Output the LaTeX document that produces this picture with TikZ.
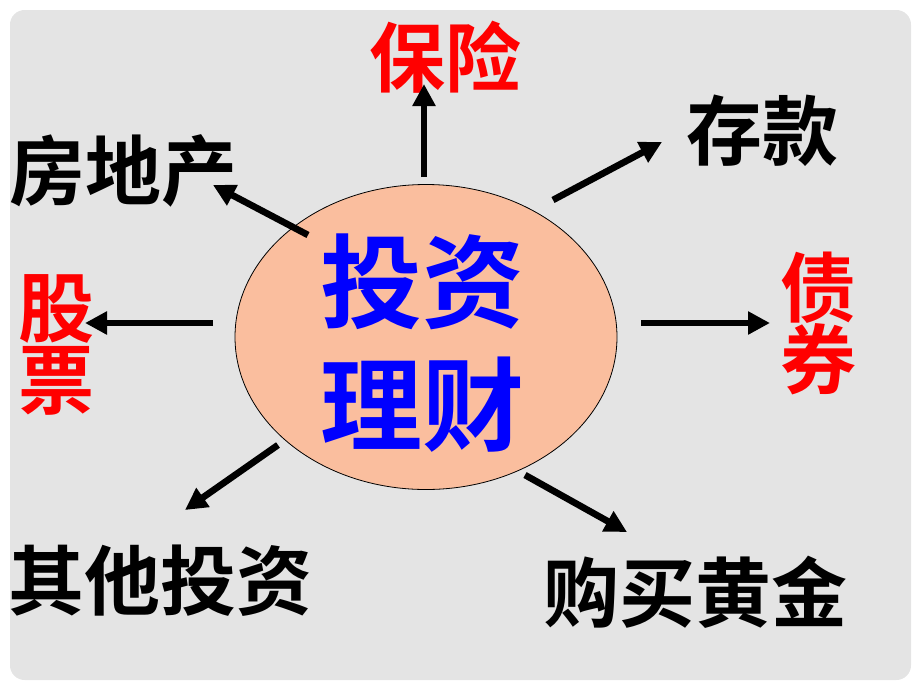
\documentclass[tikz,border=0pt]{standalone}
\usepackage{fontspec}
\setmainfont{Noto Sans CJK SC}[BoldFont={Noto Sans CJK SC Bold}]
\usetikzlibrary{arrows.meta, shapes.geometric}
\definecolor{bgGrey}{RGB}{228,228,228}
\definecolor{coreFill}{RGB}{250,190,158}
\tikzstyle{item} = [inner sep=0pt, align=center, text=black, font=\fontsize{57pt}{54pt}\selectfont\bfseries]
\tikzstyle{hot} = [item, text=red]
\tikzstyle{core} = [ellipse, draw=black, line width=0.6pt, fill=coreFill, inner sep=0pt, minimum width=286.5pt, minimum height=228.75pt]
\tikzstyle{coretext} = [inner sep=0pt, align=center, text=blue, font=\fontsize{76.5pt}{92pt}\selectfont\bfseries]
\tikzstyle{arrow} = [line width=5pt, -{Triangle[length=16.5pt, width=16.5pt]}]
\begin{document}
\begin{tikzpicture}[x=0.75pt, y=-0.75pt]
\useasboundingbox (0,0) rectangle (920,690);
\fill [bgGrey, rounded corners=11pt] (10,10) rectangle (911,680);

\node (CORE) [core] at (426,337) {};
\node (CORE_TEXT) [coretext] at (422,343) {投资\\理财};

\node (BAOXIAN) [hot] at (445,57) {保险};
\node (CUNKUAN) [item] at (762,131) {存款};
\node (FANGDICHAN) [item] at (123,171) {房地产};
\node (GUPIAO) [hot] at (56,345) {股\\票};
\node (ZHAIQUAN) [hot] at (818,323) {债\\券};
\node (QITA) [item] at (160,581) {其他投资};
\node (HUANGJIN) [item] at (695,592) {购买黄金};

% arrow ends
\coordinate (UP_TAIL) at (424,177);
\coordinate (UP_TIP) at (424,84);
\coordinate (NE_TAIL) at (553,200);
\coordinate (NE_TIP) at (662,142);
\coordinate (NW_TAIL) at (308,235);
\coordinate (NW_TIP) at (213,185);
\coordinate (W_TAIL) at (213,323);
\coordinate (W_TIP) at (85,323);
\coordinate (E_TAIL) at (641,323);
\coordinate (E_TIP) at (770,323);
\coordinate (SW_TAIL) at (278,445);
\coordinate (SW_TIP) at (185,510);
\coordinate (SE_TAIL) at (525,475);
\coordinate (SE_TIP) at (627,532);

\draw [arrow] (UP_TAIL) -- (UP_TIP);
\draw [arrow] (NE_TAIL) -- (NE_TIP);
\draw [arrow] (NW_TAIL) -- (NW_TIP);
\draw [arrow] (W_TAIL) -- (W_TIP);
\draw [arrow] (E_TAIL) -- (E_TIP);
\draw [arrow] (SW_TAIL) -- (SW_TIP);
\draw [arrow] (SE_TAIL) -- (SE_TIP);

\end{tikzpicture}
\end{document}
